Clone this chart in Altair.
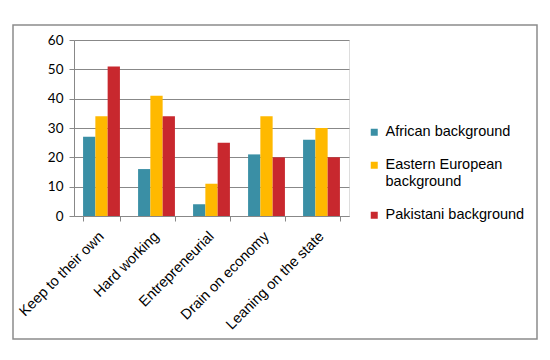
import altair as alt
import pandas as pd

categories = ["Keep to their own", "Hard working", "Entrepreneurial", "Drain on economy", "Leaning on the state"]
series = ["African background", "Eastern European background", "Pakistani background"]
african = [27, 16, 4, 21, 26]
eastern = [34, 41, 11, 34, 30]
pakistani = [51, 34, 25, 20, 20]
colors = ["#3A8FA5", "#FFB900", "#C8282E"]

rows = []
for i, c in enumerate(categories):
    for s, vals in zip(series, [african, eastern, pakistani]):
        rows.append({"category": c, "series": s, "value": vals[i]})
df = pd.DataFrame(rows)

bars = alt.Chart(df).mark_bar().encode(
    x=alt.X("category:N", sort=categories, title=None,
            scale=alt.Scale(paddingInner=0.33, paddingOuter=0.165),
            axis=alt.Axis(labelAngle=-45, labelAlign="right", labelBaseline="top",
                          labelFont="Liberation Sans", labelFontSize=14.5, labelColor="#000000",
                          domainColor="#888888", tickColor="#888888", tickBand="extent",
                          tickSize=5, labelPadding=8, labelOffset=-5, grid=False)),
    xOffset=alt.XOffset("series:N", sort=series, scale=alt.Scale(paddingInner=0, paddingOuter=0)),
    y=alt.Y("value:Q", title=None,
            scale=alt.Scale(domain=[0, 60]),
            axis=alt.Axis(values=[0, 10, 20, 30, 40, 50, 60], labelFont="Lato", labelFontSize=13.5,
                          labelColor="#000000", domainColor="#888888", tickColor="#888888",
                          tickSize=5, gridColor="#888888", labelPadding=6)),
    color=alt.Color("series:N", sort=series, scale=alt.Scale(domain=series, range=colors),
                    legend=alt.Legend(title=None, orient="none", legendX=293, legendY=85,
                                      symbolType="square", symbolSize=49, symbolStrokeWidth=0,
                                      labelFont="Liberation Sans", labelFontSize=14.5,
                                      labelColor="#000000", rowPadding=18, labelOffset=4,
                                      labelLimit=220,
                                      labelExpr="datum.label == 'Eastern European background' ? ['Eastern European', 'background'] : datum.label")),
)

border = alt.Chart(pd.DataFrame({"a": [0]})).mark_rect(
    fill=None, stroke="#8c8c8c", strokeWidth=1.5, clip=False
).encode(x=alt.value(-61), x2=alt.value(463), y=alt.value(-15), y2=alt.value(299))

chart = alt.layer(bars, border).properties(
    width=275, height=176,
    padding={"left": 4, "top": 16, "right": 4, "bottom": 4},
).configure_view(stroke=None).configure(background="white")

chart.save("out.html", embed_options={"renderer": "svg", "actions": False})
